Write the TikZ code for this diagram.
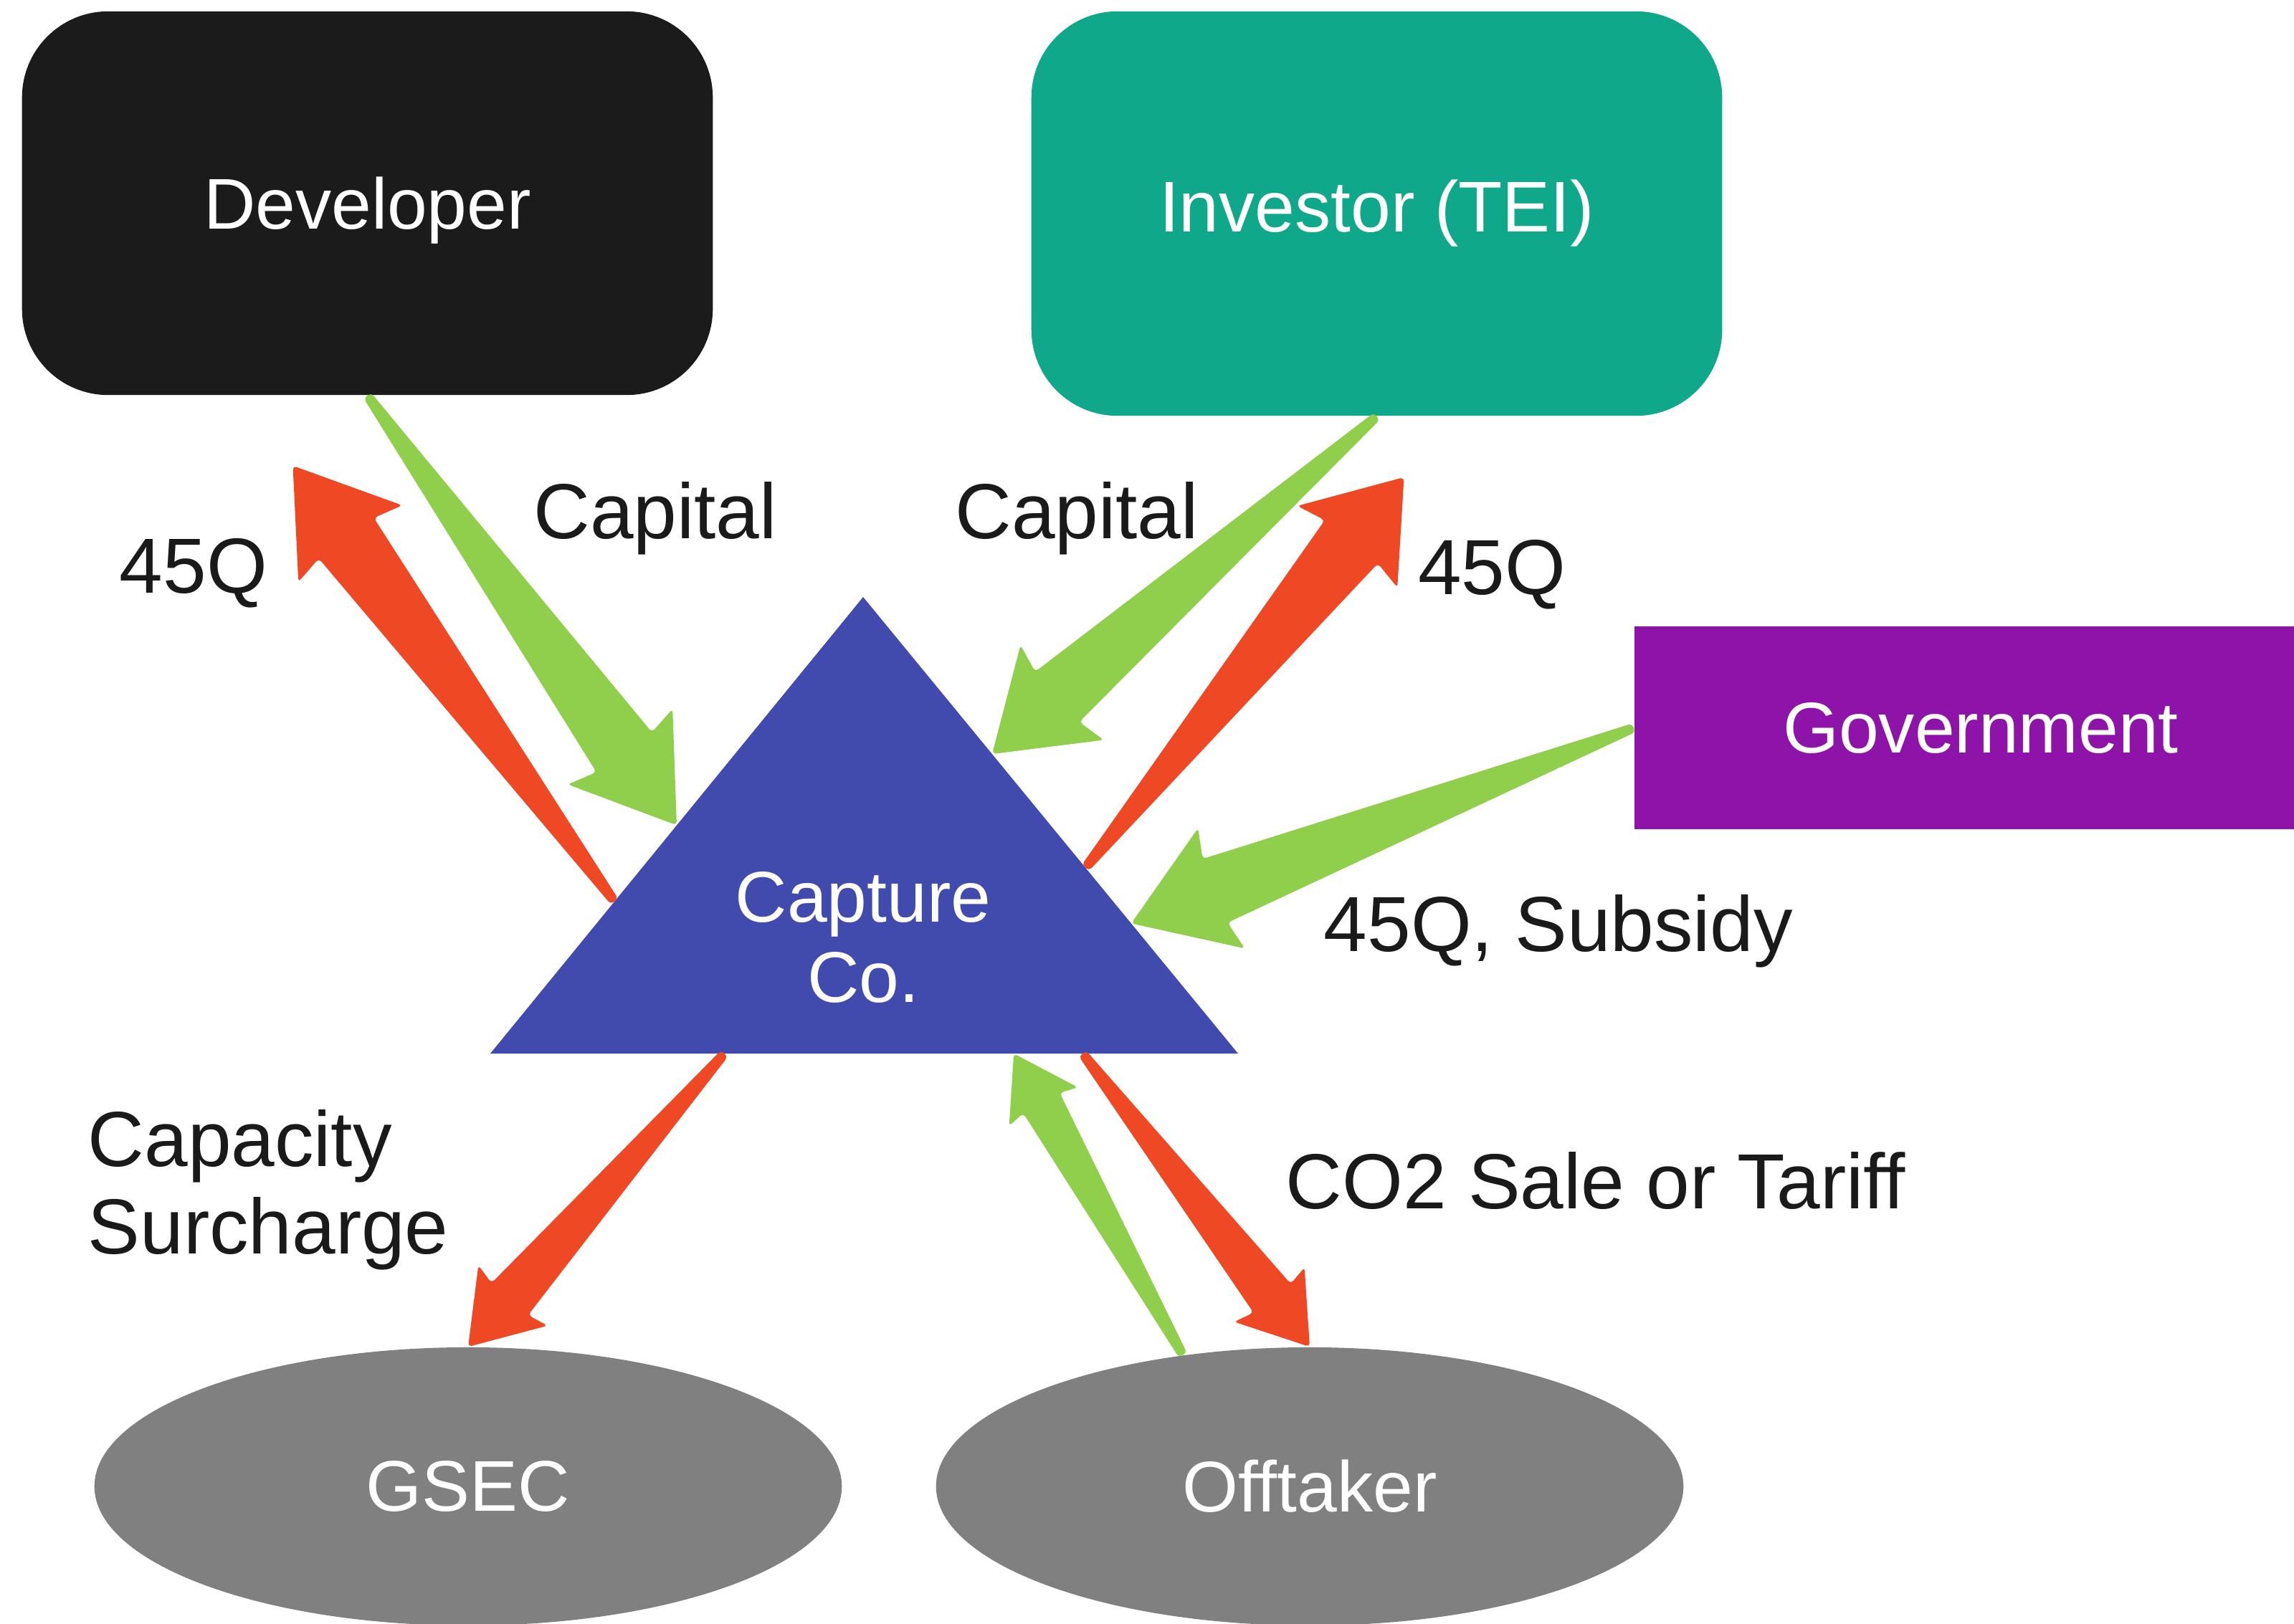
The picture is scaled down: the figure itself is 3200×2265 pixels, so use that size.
\documentclass[tikz,border=0pt]{standalone}
\usepackage{fontspec}
\setmainfont{Liberation Sans}
\usetikzlibrary{calc,shapes.geometric}

\definecolor{devblack}{HTML}{1B1B1B}
\definecolor{teiteal}{HTML}{0FA88A}
\definecolor{govpurple}{HTML}{8E13A8}
\definecolor{capblue}{HTML}{414AAD}
\definecolor{flowgreen}{HTML}{8FCF4B}
\definecolor{flowred}{HTML}{EE4824}
\definecolor{partygray}{HTML}{808080}
\definecolor{labelblack}{HTML}{1A1A1A}

% tapered flow arrow: colour, from, to, head half width (cm), head length (cm)
\newcommand{\flowarrow}[5]{%
  \pgfmathsetmacro\fahw{#4}%
  \pgfmathsetmacro\fahl{#5}%
  \pgfmathsetmacro\fanl{0.93*#5}%
  \pgfmathsetmacro\fasw{0.53*#4}%
  \coordinate (fa-n) at ($(#3)!\fanl cm!(#2)$);
  \coordinate (fa-b) at ($(#3)!\fahl cm!(#2)$);
  \fill[#1,rounded corners=1.5pt]
    ($(#2)!0.065cm!90:(#3)$) -- ($(fa-n)!\fasw cm!90:(#3)$) --
    ($(fa-b)!\fahw cm!90:(#3)$) -- (#3) --
    ($(fa-b)!\fahw cm!-90:(#3)$) -- ($(fa-n)!\fasw cm!-90:(#3)$) --
    ($(#2)!0.065cm!-90:(#3)$) -- cycle;
}

\begin{document}
\begin{tikzpicture}[x=0.01cm,y=-0.01cm,
  party/.style={text=white,font=\fontsize{28.5}{32}\selectfont,inner sep=0pt},
  flowlabel/.style={anchor=base,text=labelblack,font=\fontsize{31}{34.6}\selectfont,inner sep=0pt}]
\useasboundingbox (0,0) rectangle (3200,2265);

\node (dev) [party,rectangle,rounded corners=1.2cm,fill=devblack,minimum width=9.63cm,minimum height=5.35cm,text depth=0pt] at (512.5,283.5) {Developer};
\node (inv) [party,rectangle,rounded corners=1.2cm,fill=teiteal,minimum width=9.63cm,minimum height=5.64cm] at (1920.5,298) {Investor (TEI)};
\node (gov) [party,rectangle,fill=govpurple,minimum width=9.66cm,minimum height=2.83cm] at (2763,1015.5) {Government};
\node (gsec) [party,ellipse,fill=partygray,minimum width=10.42cm,minimum height=3.88cm] at (653,2074) {GSEC};
\node (off) [party,ellipse,fill=partygray,minimum width=10.42cm,minimum height=3.88cm] at (1827,2074) {Offtaker};

% capture co. triangle
\coordinate (tri-t) at (1204,833);
\coordinate (tri-l) at (684,1470);
\coordinate (tri-r) at (1727,1470);
\fill[capblue] (tri-t) -- (tri-l) -- (tri-r) -- cycle;
\node (cap) [party,align=center] at (1204,1308) {Capture\\Co.};

\coordinate (capL1) at ($(tri-t)!0.5!(tri-l)$);
\coordinate (capL2) at ($(tri-t)!0.667!(tri-l)$);
\coordinate (capR1) at ($(tri-t)!0.344!(tri-r)$);
\coordinate (capR2) at ($(tri-t)!0.593!(tri-r)$);
\coordinate (capR3) at ($(tri-t)!0.715!(tri-r)$);
\coordinate (capB1) at ($(tri-l)!0.313!(tri-r)$);
\coordinate (capB2) at ($(tri-l)!0.70!(tri-r)$);
\coordinate (capB3) at ($(tri-l)!0.792!(tri-r)$);
\coordinate (dev-in) at ($(dev.south)+(-104,98)$);
\coordinate (inv-in) at ($(inv.south)+(38,85)$);

% flows
\flowarrow{flowgreen}{dev.south}{capL1}{0.9}{1.35}
\flowarrow{flowred}{capL2}{dev-in}{0.9}{1.35}
\flowarrow{flowgreen}{inv.south}{capR1}{0.88}{1.3}
\flowarrow{flowred}{capR2}{inv-in}{0.9}{1.25}
\flowarrow{flowgreen}{gov.west}{capR3}{0.9}{1.35}
\flowarrow{flowred}{capB1}{gsec.north}{0.64}{0.95}
\flowarrow{flowgreen}{off.134}{capB2}{0.55}{0.85}
\flowarrow{flowred}{capB3}{off.north}{0.62}{0.92}

% labels
\node (l45a) [flowlabel] at (270,827) {45Q};
\node (lcapa) [flowlabel] at (914,751) {Capital};
\node (lcapb) [flowlabel] at (1502,751) {Capital};
\node (l45b) [flowlabel] at (2081,829) {45Q};
\node (lsub) [flowlabel] at (2174,1327) {45Q, Subsidy};
\node (lco2) [flowlabel] at (2226,1686) {CO2 Sale or Tariff};
\node (lsur) [flowlabel,anchor=base west,align=left] at (122,1749) {Capacity\\Surcharge};
\end{tikzpicture}
\end{document}
